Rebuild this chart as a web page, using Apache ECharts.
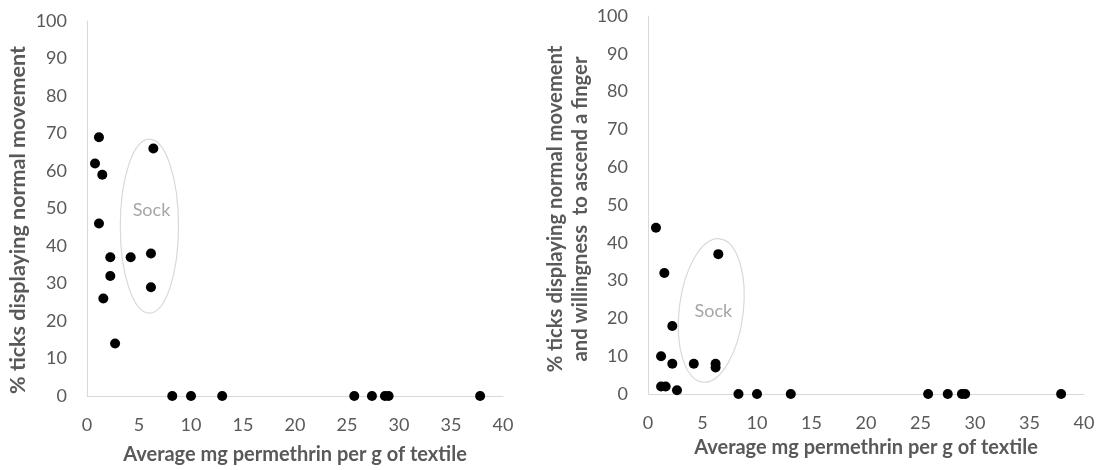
<!DOCTYPE html>
<html><head><meta charset="utf-8">
<script src="https://cdn.jsdelivr.net/npm/echarts@6/dist/echarts.min.js"></script>
<style>html,body{margin:0;padding:0;background:#fff}#c{width:1108px;height:470px}</style>
</head><body><div id="c"></div>
<script>
// Left panel: % ticks displaying normal movement
const leftX = [1.15, 0.77, 1.47, 6.38, 1.15, 2.24, 4.2, 6.15, 2.24, 6.15, 1.57, 2.7, 8.2, 10.0, 13.0, 25.7, 27.4, 28.65, 29.0, 37.8];
const leftY = [69, 62, 59, 66, 46, 37, 37, 38, 32, 29, 26, 14, 0, 0, 0, 0, 0, 0, 0, 0];
// Right panel: % ticks displaying normal movement and willingness to ascend a finger
const rightX = [0.73, 6.45, 1.5, 2.23, 1.2, 2.23, 4.2, 6.2, 6.2, 1.2, 1.62, 2.66, 8.3, 10.0, 13.1, 25.7, 27.5, 28.8, 29.1, 37.9];
const rightY = [44, 37, 32, 18, 10, 8, 8, 8, 7, 2, 2, 1, 0, 0, 0, 0, 0, 0, 0, 0];

const xTitle = 'Average mg permethrin per g of textile';
const leftYTitle = '% ticks displaying normal movement';
const rightYTitle = '% ticks displaying normal movement\nand willingness  to ascend a finger';
const annotationText = 'Sock';

const FONT = 'Lato';
const GREY = '#595959';
const AXIS = '#d9d9d9';

function xAxisCfg(gi, gap) {
  return {
    gridIndex: gi, type: 'value', min: 0, max: 40, interval: 5,
    axisLine: { show: true, lineStyle: { color: AXIS, width: 1 } },
    axisTick: { show: false }, splitLine: { show: false },
    axisLabel: { color: GREY, fontSize: 18, fontFamily: FONT, margin: 20 },
    name: xTitle, nameLocation: 'middle', nameGap: gap,
    nameTextStyle: { color: GREY, fontSize: 20, fontWeight: 'bold', fontFamily: FONT }
  };
}
function yAxisCfg(gi, name, gap, pad, fs, lh) {
  return {
    gridIndex: gi, type: 'value', min: 0, max: 100, interval: 10,
    axisLine: { show: true, lineStyle: { color: AXIS, width: 1 } },
    axisTick: { show: false }, splitLine: { show: false },
    axisLabel: { color: GREY, fontSize: 18, fontFamily: FONT, margin: 20 },
    name: name, nameLocation: 'middle', nameGap: gap,
    nameTextStyle: { color: GREY, fontSize: fs, fontWeight: 'bold', fontFamily: FONT, padding: pad, lineHeight: lh }
  };
}
function pairs(xs, ys) { return xs.map((x, i) => [x, ys[i]]); }

const chart = echarts.init(document.getElementById('c'));
chart.setOption({
  animation: false,
  backgroundColor: '#fff',
  grid: [
    { left: 87, top: 21, width: 416, height: 375 },
    { left: 648, top: 16, width: 436, height: 378 }
  ],
  xAxis: [xAxisCfg(0, 49), xAxisCfg(1, 44)],
  yAxis: [
    yAxisCfg(0, leftYTitle, 58, [0, 23, 0, 0], 21.5, 22),
    yAxisCfg(1, rightYTitle, 54, [0, 8, 0, 0], 20.2, 25)
  ],
  series: [
    { type: 'scatter', xAxisIndex: 0, yAxisIndex: 0, data: pairs(leftX, leftY),
      symbol: 'circle', symbolSize: 10, itemStyle: { color: '#000', opacity: 1 } },
    { type: 'scatter', xAxisIndex: 1, yAxisIndex: 1, data: pairs(rightX, rightY),
      symbol: 'circle', symbolSize: 10, itemStyle: { color: '#000', opacity: 1 } }
  ]
});

// "Sock" annotation ellipses, defined in data units
const sockNotes = [
  { grid: 0, center: [6.0, 45.3], rx: 2.8, ry: 23.2, rot: 0, label: [6.2, 49.6] },
  { grid: 1, center: [5.8, 22.1], rx: 2.94, ry: 19.1, rot: -0.12, label: [6.0, 21.8] }
];
const graphics = [];
sockNotes.forEach(n => {
  const c = chart.convertToPixel({ gridIndex: n.grid }, n.center);
  const e = chart.convertToPixel({ gridIndex: n.grid }, [n.center[0] + n.rx, n.center[1] + n.ry]);
  const l = chart.convertToPixel({ gridIndex: n.grid }, n.label);
  graphics.push({
    type: 'ellipse', x: c[0], y: c[1], rotation: n.rot,
    shape: { cx: 0, cy: 0, rx: Math.abs(e[0] - c[0]), ry: Math.abs(c[1] - e[1]) },
    style: { fill: 'none', stroke: AXIS, lineWidth: 1.2 }, z: 1
  });
  graphics.push({
    type: 'text', x: l[0], y: l[1],
    style: { text: annotationText, fill: '#a6a6a6', font: '18px ' + FONT, textAlign: 'center', textVerticalAlign: 'middle' }, z: 2
  });
});
chart.setOption({ graphic: graphics });
</script>
</body></html>
